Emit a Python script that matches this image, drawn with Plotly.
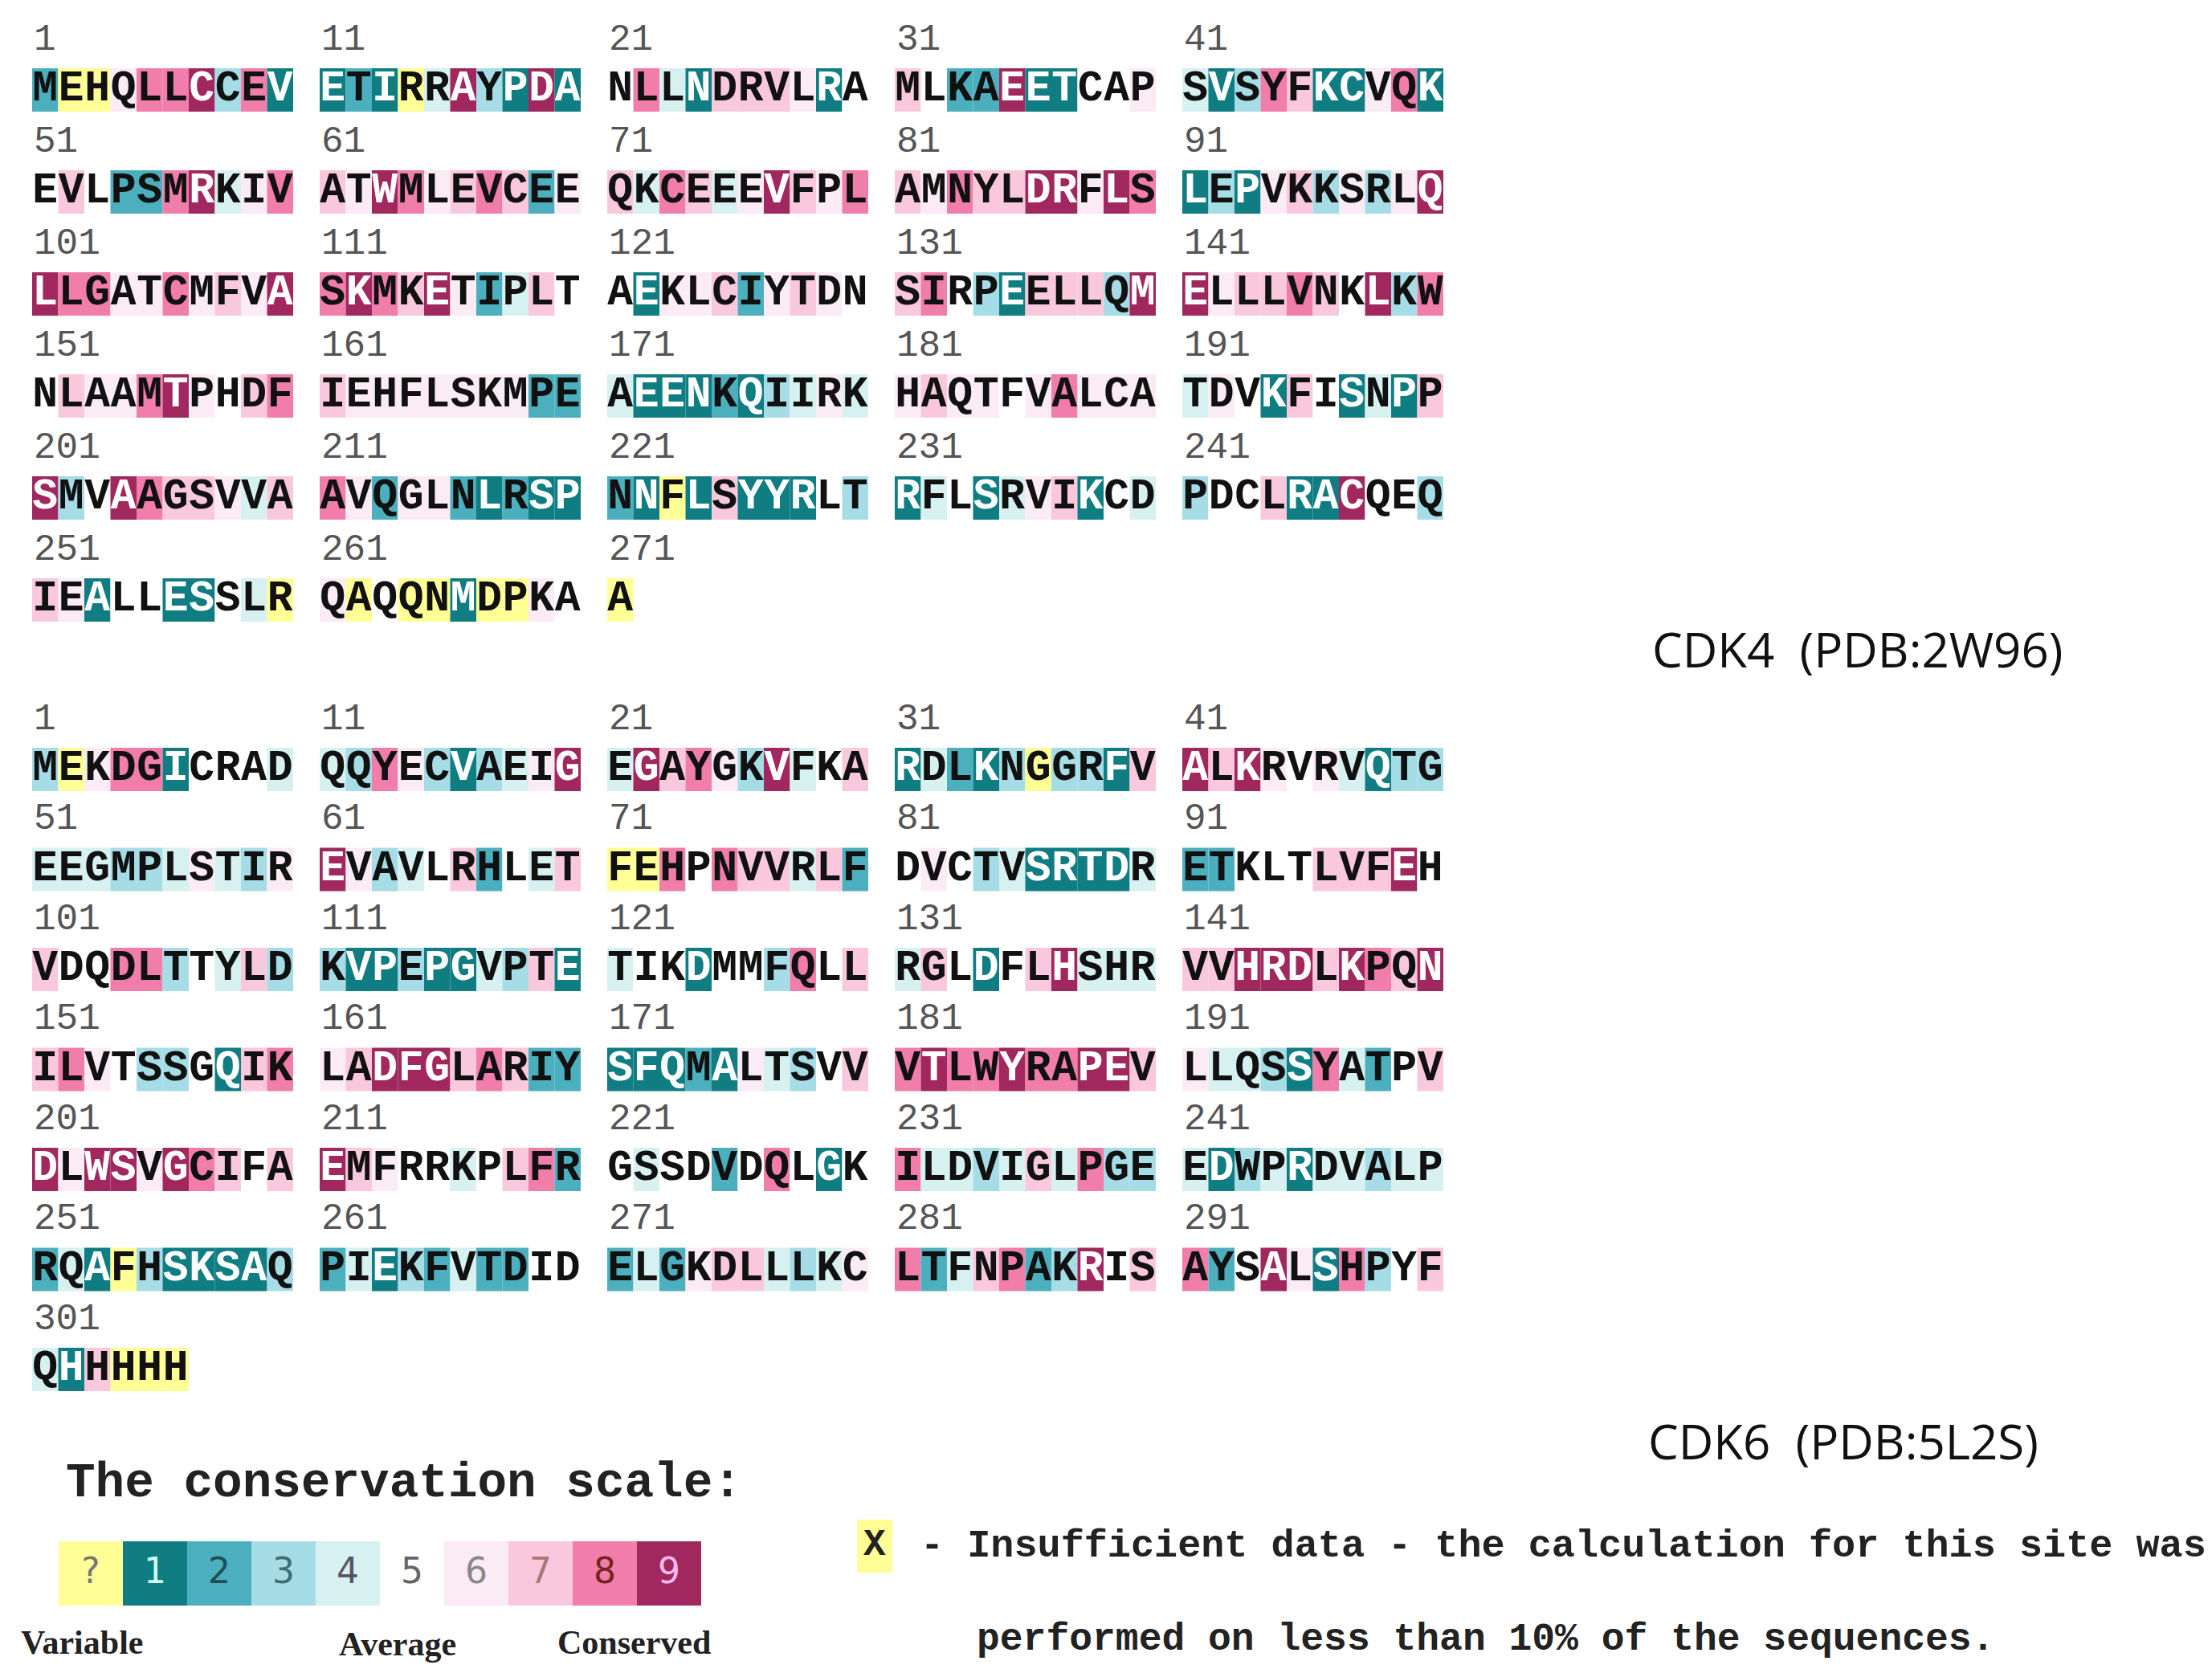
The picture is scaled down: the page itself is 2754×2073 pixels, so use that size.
import plotly.graph_objects as go

# ---------------- data ----------------
cdk4_seq = ("MEHQLLCCEV" "ETIRRAYPDA" "NLLNDRVLRA" "MLKAEETCAP" "SVSYFKCVQK"
            "EVLPSMRKIV" "ATWMLEVCEE" "QKCEEEVFPL" "AMNYLDRFLS" "LEPVKKSRLQ"
            "LLGATCMFVA" "SKMKETIPLT" "AEKLCIYTDN" "SIRPEELLQM" "ELLLVNKLKW"
            "NLAAMTPHDF" "IEHFLSKMPE" "AEENKQIIRK" "HAQTFVALCA" "TDVKFISNPP"
            "SMVAAGSVVA" "AVQGLNLRSP" "NNFLSYYRLT" "RFLSRVIKCD" "PDCLRACQEQ"
            "IEALLESSLR" "QAQQNMDPKA" "A")
cdk4_grades = ("2006889381" "1210493191" "5841777615" "7522911556" "4138711681"
               "5752289468" "7698678726" "7487469768" "7687799698" "1316736369"
               "9886686769" "8987962475" "5166726765" "7853177739" "9677875938"
               "5766896578" "7666666622" "4111213464" "6766568666" "4651751417"
               "9359877647" "8626621211" "2101711153" "1451467154" "3557119553"
               "7615511540" "6050010065" "0")
cdk6_seq = ("MEKDGICRAD" "QQYECVAEIG" "EGAYGKVFKA" "RDLKNGGRFV" "ALKRVRVQTG"
            "EEGMPLSTIR" "EVAVLRHLET" "FEHPNVVRLF" "DVCTVSRTDR" "ETKLTLVFEH"
            "VDQDLTTYLD" "KVPEPGVPTE" "TIKDMMFQLL" "RGLDFLHSHR" "VVHRDLKPQN"
            "ILVTSSGQIK" "LADFGLARIY" "SFQMALTSVV" "VTLWYRAPEV" "LLQSSYATPV"
            "DLWSVGCIFA" "EMFRRKPLFR" "GSSDVDQLGK" "ILDVIGLPGE" "EDWPRDVALP"
            "RQAFHSKSAQ" "PIEKFVTDID" "ELGKDLLLKC" "LTFNPAKRIS" "AYSALSHPYF"
            "QHHHHH")
cdk6_grades = ("3068815554" "4386313469" "4978639457" "1421303317" "9796564133"
               "4443346436" "9634572547" "0085877472" "5653411114" "2255577795"
               "7558835473" "3113114371" "4551553857" "4751579444" "7799979879"
               "7865335178" "6799978722" "1112164357" "8988988997" "6443184257"
               "9699698757" "9765545782" "5455258515" "8443474833" "4134144344"
               "2410311113" "2413242255" "2426774346" "8247823957" "8259618357"
               "417000")
scale_labels = ["?", "1", "2", "3", "4", "5", "6", "7", "8", "9"]
palette = ["#FFFF96", "#0F7D82", "#4BAFBE", "#A5DCE6", "#D7F0F0",
           "#FFFFFF", "#FAEBF5", "#FAC8DC", "#F07DAA", "#A0285F"]
proteins = [
    {"seq": cdk4_seq, "grades": cdk4_grades, "y0": 104, "pitch": 127,
     "caption": "CDK4  (PDB:2W96)", "cap_xy": (2304, 800)},
    {"seq": cdk6_seq, "grades": cdk6_grades, "y0": 950, "pitch": 124.5,
     "caption": "CDK6  (PDB:5L2S)", "cap_xy": (2287, 1786)},
]

# ---------------- layout constants ----------------
W, H = 2754, 2073
X0, CW, BLOCK = 32, 32.5, 358
CH = 54
MONO = "Liberation Mono, Courier New, monospace"

fig = go.Figure()
for p in proteins:
    seq, gr = p["seq"], [int(c) for c in p["grades"]]
    xs, ys, cols, tcols, labx, laby, labt = [], [], [], [], [], [], []
    for i, (aa, g) in enumerate(zip(seq, gr)):
        row, col = divmod(i, 50)
        blk, pos = divmod(col, 10)
        x = X0 + blk * BLOCK + pos * CW + CW / 2
        y = p["y0"] + row * p["pitch"]
        xs.append(x); ys.append(y)
        cols.append(palette[g])
        tcols.append("white" if g in (1, 9) else "#111111")
        if pos == 0:
            labx.append(x - CW / 2 + 2); laby.append(y - 62); labt.append(str(i + 1))
    fig.add_trace(go.Bar(x=xs, y=[CH] * len(xs), base=[y - CH / 2 for y in ys],
                         width=CW, marker=dict(color=cols, line=dict(width=0)),
                         hoverinfo="skip", showlegend=False))
    fig.add_trace(go.Scatter(x=xs, y=ys, mode="text", text=list(seq),
                             textfont=dict(family=MONO, size=53, color=tcols, weight="bold"),
                             hoverinfo="skip", showlegend=False))
    fig.add_trace(go.Scatter(x=labx, y=laby, mode="text", text=labt, textposition="middle right",
                             textfont=dict(family=MONO, size=46, color="#555555"),
                             hoverinfo="skip", showlegend=False))
    fig.add_annotation(x=p["cap_xy"][0], y=p["cap_xy"][1], text=p["caption"], showarrow=False,
                       xanchor="center", font=dict(family="Open Sans, Noto Sans", size=60, color="#111"))

# ---------------- legend ----------------
lx = [65 + 80 * k + 40 for k in range(10)]
fig.add_trace(go.Bar(x=lx, y=[80] * 10, base=[1911] * 10, width=80,
                     marker=dict(color=palette, line=dict(width=0)),
                     hoverinfo="skip", showlegend=False))
fig.add_trace(go.Scatter(x=lx, y=[1952] * 10, mode="text", text=scale_labels,
                         textfont=dict(family="DejaVu Sans, sans-serif", size=44,
                                       color=["#777", "#cfe", "#1d4f55", "#3d6f75", "#556", "#666",
                                              "#888", "#a77", "#722", "#fbe"]),
                         hoverinfo="skip", showlegend=False))
fig.add_trace(go.Bar(x=[1081], y=[66], base=[1884], width=44,
                     marker=dict(color=palette[0], line=dict(width=0)),
                     hoverinfo="skip", showlegend=False))

def ann(x, y, t, size, family=MONO, bold=True, anchor="left", color="#222"):
    fig.add_annotation(x=x, y=y, text=f"<b>{t}</b>" if bold else t, showarrow=False,
                       xanchor=anchor, font=dict(family=family, size=size, color=color))

ann(72, 1838, "The conservation scale:", 61)
ann(1081, 1916, "X", 46, anchor="center")
ann(1136, 1917, "- Insufficient data - the calculation for this site was", 48.5)
ann(1206, 2033, "performed on less than 10% of the sequences.", 48)
SERIF = "Liberation Serif, Times New Roman, serif"
ann(16, 2037, "Variable", 42, SERIF)
ann(412, 2039, "Average", 42, SERIF)
ann(684, 2037, "Conserved", 42, SERIF)

fig.update_layout(width=W, height=H, margin=dict(l=0, r=0, t=0, b=0),
                  plot_bgcolor="white", paper_bgcolor="white", barmode="overlay",
                  xaxis=dict(range=[0, W], visible=False, fixedrange=True),
                  yaxis=dict(range=[H, 0], visible=False, fixedrange=True))
fig.write_html("out.html")
